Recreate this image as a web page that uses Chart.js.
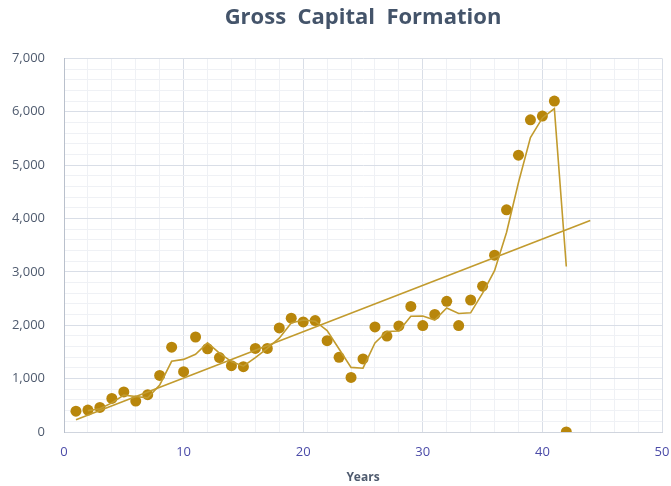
<!DOCTYPE html>
<html>
<head>
<meta charset="utf-8">
<script src="https://cdn.jsdelivr.net/npm/chart.js@4.4.1/dist/chart.umd.min.js"></script>
<style>
  html, body { margin: 0; padding: 0; background: #fff; }
  #wrap { width: 671px; height: 486px; }
</style>
</head>
<body>
<div id="wrap"><canvas id="gcfChart"></canvas></div>
<script>
// years 1..42 and gross capital formation
var years = [1, 2, 3, 4, 5, 6, 7, 8, 9, 10,
             11, 12, 13, 14, 15, 16, 17, 18, 19, 20,
             21, 22, 23, 24, 25, 26, 27, 28, 29, 30,
             31, 32, 33, 34, 35, 36, 37, 38, 39, 40,
             41, 42];
var gcfValues = [390, 410, 460, 630, 750, 580, 700, 1060, 1590, 1130,
                 1780, 1560, 1395, 1243, 1224, 1565, 1565, 1950, 2133, 2063,
                 2088, 1710, 1400, 1022, 1369, 1968, 1798, 1987, 2353, 1994,
                 2202, 2448, 1994, 2473, 2732, 3312, 4162, 5187, 5850, 5919,
                 6200, 0];
var xTickLabels = [0, 10, 20, 30, 40, 50];
var yTickLabels = [0, 1000, 2000, 3000, 4000, 5000, 6000, 7000];
var trendEndYear = 44;

var gold = '#B8860B';
var lineGold = '#C29B2E';

var points = years.map(function(x, i) { return {x: x, y: gcfValues[i]}; });

// 2 period moving average (trendline)
var movingAvg = [];
for (var i = 1; i < years.length; i++) {
    movingAvg.push({x: years[i], y: (gcfValues[i] + gcfValues[i - 1]) / 2});
}

// linear trendline, forward 2 periods
var n = years.length, sx = 0, sy = 0, sxx = 0, sxy = 0;
for (var j = 0; j < n; j++) {
    sx += years[j]; sy += gcfValues[j];
    sxx += years[j] * years[j]; sxy += years[j] * gcfValues[j];
}
var slope = (n * sxy - sx * sy) / (n * sxx - sx * sx);
var icpt = (sy - slope * sx) / n;
var linear = [
    {x: years[0], y: icpt + slope * years[0]},
    {x: trendEndYear, y: icpt + slope * trendEndYear}
];

var ctx = document.getElementById("gcfChart").getContext('2d');
var myChart = new Chart(ctx, {
    type: 'scatter',
    data: {
    datasets: [{
        label: 'Gross Capital Formation',
        data: points,
        backgroundColor: gold,
        borderWidth: 0,
        pointRadius: 5.5,
        order: 2
    }, {
        label: '2 per. Mov. Avg.',
        data: movingAvg,
        showLine: true,
        borderColor: lineGold,
        borderWidth: 1.6,
        pointRadius: 0,
        order: 1
    }, {
        label: 'Linear',
        data: linear,
        showLine: true,
        borderColor: lineGold,
        borderWidth: 1.6,
        pointRadius: 0,
        order: 1
    }]
    },
    options: {
    animation: false,
    responsive: true,
    maintainAspectRatio: false,
    layout: {
        padding: {left: 0, right: 0, top: 0, bottom: 0}
    },
    plugins: {
        legend: {
            display: false
        },
        tooltip: {
            enabled: false
        },
        title: {
            display: true,
            text: 'Gross  Capital  Formation',
            fullSize: false,
            color: '#44546A',
            font: {family: 'Open Sans', size: 22, weight: 'bold'},
            padding: {top: 5, bottom: 27}
        }
    },
    scales: {
        x: {
          type: 'linear',
          min: 0,
          max: 50,
          afterFit: function(scale) {
              scale.height = 54;
              scale.paddingRight = 9;
          },
          ticks: {
              stepSize: 2,
              autoSkip: false,
              maxRotation: 0,
              padding: 12,
              color: '#4B4BA8',
              font: {family: 'Open Sans', size: 13},
              callback: function(v) { return xTickLabels.indexOf(v) >= 0 ? v : ''; }
          },
          grid: {
              drawTicks: false,
              color: function(c) { return c.tick && c.tick.value % 10 === 0 ? '#D9DEE7' : '#EFF1F5'; }
          },
          border: {color: '#D0D5DE', width: 1},
          title: {
              display: true,
              text: 'Years',
              color: '#4E5A6E',
              font: {family: 'Open Sans', size: 12, weight: 'bold'},
              padding: {top: 0, bottom: 1}
          }
        },
        y: {
          min: 0,
          max: 7000,
          afterFit: function(scale) { scale.width = 64; },
          ticks: {
              stepSize: 200,
              autoSkip: false,
              padding: 19,
              color: '#4E5A6E',
              font: {family: 'Open Sans', size: 13},
              callback: function(v) {
                  return yTickLabels.indexOf(v) >= 0 ? v.toLocaleString('en-US') : '';
              }
          },
          grid: {
              drawTicks: false,
              color: function(c) { return c.tick && c.tick.value % 1000 === 0 ? '#D9DEE7' : '#EFF1F5'; }
          },
          border: {color: '#B9C0CC', width: 1}
        }
      }
    }
});
</script>
</body>
</html>
